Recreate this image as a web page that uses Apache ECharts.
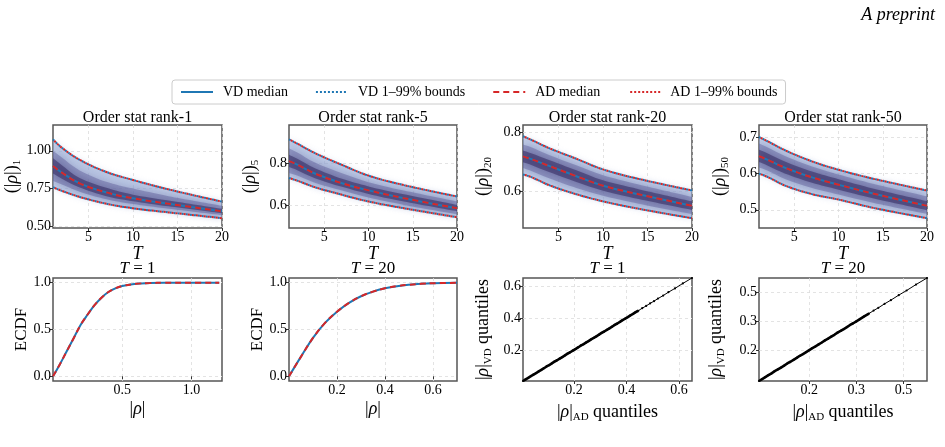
<!DOCTYPE html>
<html>
<head>
<meta charset="utf-8">
<script src="https://cdn.jsdelivr.net/npm/echarts@6/dist/echarts.min.js"></script>
<style>
  html, body { margin: 0; padding: 0; background: #fff; }
  #main { width: 945px; height: 447px; }
</style>
</head>
<body>
<div id="main"></div>
<script>
// T steps
const tSteps = [1, 2, 4, 7, 10, 14, 20];

// rank-1 : 1%, 10%, 25%, median, 75%, 90%, 99%
const r1Lo  = [0.759, 0.735, 0.695, 0.650, 0.620, 0.593, 0.555];
const r1Q10 = [0.800, 0.778, 0.730, 0.680, 0.648, 0.617, 0.575];
const r1Q25 = [0.850, 0.815, 0.757, 0.700, 0.667, 0.633, 0.587];
const r1Med = [0.899, 0.855, 0.785, 0.725, 0.686, 0.650, 0.600];
const r1Q75 = [0.950, 0.905, 0.820, 0.755, 0.710, 0.672, 0.617];
const r1Q90 = [1.000, 0.955, 0.870, 0.795, 0.750, 0.700, 0.637];
const r1Hi  = [1.075, 1.020, 0.940, 0.860, 0.807, 0.745, 0.664];

// rank-5
const r5Lo  = [0.728, 0.714, 0.683, 0.648, 0.616, 0.584, 0.541];
const r5Q10 = [0.752, 0.738, 0.704, 0.668, 0.635, 0.600, 0.556];
const r5Q25 = [0.780, 0.764, 0.726, 0.686, 0.652, 0.616, 0.570];
const r5Med = [0.808, 0.790, 0.748, 0.703, 0.669, 0.632, 0.584];
const r5Q75 = [0.838, 0.818, 0.773, 0.724, 0.688, 0.650, 0.600];
const r5Q90 = [0.868, 0.848, 0.800, 0.750, 0.708, 0.668, 0.616];
const r5Hi  = [0.912, 0.890, 0.845, 0.790, 0.739, 0.694, 0.640];

// rank-20
const r20Lo  = [0.657, 0.647, 0.620, 0.590, 0.566, 0.541, 0.509];
const r20Q10 = [0.679, 0.668, 0.643, 0.611, 0.585, 0.558, 0.523];
const r20Q25 = [0.698, 0.688, 0.664, 0.631, 0.602, 0.574, 0.537];
const r20Med = [0.718, 0.708, 0.685, 0.651, 0.619, 0.590, 0.551];
const r20Q75 = [0.738, 0.728, 0.705, 0.671, 0.637, 0.607, 0.566];
const r20Q90 = [0.758, 0.748, 0.722, 0.688, 0.654, 0.623, 0.581];
const r20Hi  = [0.786, 0.773, 0.745, 0.710, 0.674, 0.642, 0.603];

// rank-50
const r50Lo  = [0.599, 0.590, 0.566, 0.543, 0.528, 0.505, 0.477];
const r50Q10 = [0.616, 0.607, 0.584, 0.560, 0.542, 0.519, 0.489];
const r50Q25 = [0.631, 0.621, 0.599, 0.574, 0.555, 0.531, 0.499];
const r50Med = [0.647, 0.637, 0.615, 0.589, 0.569, 0.544, 0.511];
const r50Q75 = [0.665, 0.655, 0.632, 0.605, 0.584, 0.558, 0.524];
const r50Q90 = [0.682, 0.671, 0.647, 0.619, 0.597, 0.571, 0.537];
const r50Hi  = [0.700, 0.688, 0.663, 0.633, 0.610, 0.585, 0.553];

// ECDF of |rho|
const ecdfT1X  = [0, 0.05, 0.1, 0.15, 0.2, 0.25, 0.3, 0.35, 0.4, 0.45, 0.5, 0.6, 0.7, 0.8, 1.0, 1.2];
const ecdfT1Vd = [0, 0.13, 0.27, 0.41, 0.55, 0.66, 0.76, 0.84, 0.90, 0.94, 0.965, 0.988, 0.996, 0.999, 1, 1];
const ecdfT1Ad = [0, 0.13, 0.27, 0.41, 0.55, 0.66, 0.76, 0.84, 0.90, 0.94, 0.965, 0.988, 0.996, 0.999, 1, 1];
const ecdfT20X  = [0, 0.05, 0.1, 0.15, 0.2, 0.25, 0.3, 0.35, 0.4, 0.45, 0.5, 0.55, 0.6, 0.7];
const ecdfT20Vd = [0, 0.21, 0.41, 0.57, 0.69, 0.785, 0.855, 0.905, 0.94, 0.963, 0.978, 0.988, 0.994, 0.999];
const ecdfT20Ad = [0, 0.21, 0.41, 0.57, 0.69, 0.785, 0.855, 0.905, 0.94, 0.963, 0.978, 0.988, 0.994, 0.999];

// QQ quantiles
const qqT1Ad = [0.005,0.015,0.025,0.035,0.045,0.055,0.065,0.075,0.085,0.095,0.105,0.115,0.125,0.135,0.145,0.155,0.165,0.175,0.185,0.195,0.205,0.215,0.225,0.235,0.245,0.255,0.265,0.275,0.285,0.295,0.305,0.315,0.325,0.335,0.345,0.355,0.365,0.375,0.385,0.395,0.405,0.415,0.425,0.435,0.445,0.46,0.475,0.49,0.505,0.52,0.54,0.56,0.585,0.615,0.65];
const qqT1Vd = [0.005,0.015,0.025,0.035,0.045,0.055,0.065,0.075,0.085,0.096,0.105,0.115,0.126,0.135,0.145,0.155,0.165,0.176,0.185,0.195,0.205,0.215,0.226,0.235,0.245,0.255,0.266,0.275,0.285,0.295,0.306,0.315,0.325,0.335,0.345,0.356,0.365,0.375,0.386,0.395,0.405,0.416,0.425,0.436,0.445,0.461,0.475,0.491,0.505,0.521,0.54,0.561,0.585,0.616,0.65];
const qqT20Ad = [0.04,0.05,0.06,0.07,0.08,0.09,0.1,0.11,0.12,0.13,0.14,0.15,0.16,0.17,0.18,0.19,0.2,0.21,0.22,0.23,0.24,0.25,0.26,0.27,0.28,0.29,0.3,0.31,0.32,0.33,0.34,0.35,0.36,0.375,0.39,0.405,0.42,0.44,0.46,0.485,0.51,0.54,0.575];
const qqT20Vd = [0.04,0.05,0.06,0.07,0.08,0.091,0.1,0.11,0.12,0.131,0.14,0.15,0.16,0.171,0.18,0.19,0.2,0.211,0.22,0.23,0.24,0.251,0.26,0.27,0.28,0.291,0.3,0.31,0.32,0.331,0.34,0.35,0.36,0.376,0.39,0.406,0.42,0.441,0.46,0.486,0.51,0.541,0.575];

const titlesTop = ['Order stat rank-1', 'Order stat rank-5', 'Order stat rank-20', 'Order stat rank-50'];
const titlesBottom = ['1', '20', '1', '20'];

const BLUE = '#1f77b4', RED = '#d62728';
const FONT = 'Liberation Serif, DejaVu Serif, serif';
const outerFill = 'rgba(150,168,212,0.55)';
const midFill = 'rgba(95,95,155,0.45)';
const coreFill = 'rgba(50,40,95,0.55)';

const colsX = [53, 289, 523, 759];
const colsW = [169, 168, 169, 168];

const grids = [];
const xAxes = [];
const yAxes = [];
const series = [];
const titles = [];

function axisBase(idx, min, max, ticks, fmt) {
  return {
    type: 'value', gridIndex: idx, min: min, max: max,
    axisLine: { show: false },
    axisTick: { show: true, length: 3, lineStyle: { color: '#333' }, customValues: ticks },
    axisLabel: { customValues: ticks, formatter: fmt, fontSize: 14, color: '#000', fontFamily: FONT, margin: 2 },
    splitLine: { show: true, lineStyle: { color: '#dcdcdc', width: 0.8, type: [3, 3] } }
  };
}

const subRich = {
  r: { fontStyle: 'italic', fontSize: 18, fontFamily: FONT, color: '#000' },
  s: { fontSize: 11, fontFamily: FONT, color: '#000', padding: [10, 0, 0, 0] },
  i: { fontStyle: 'italic', fontSize: 18, fontFamily: FONT, color: '#000' }
};

function addGrid(col, top) {
  grids.push({ left: colsX[col], top: top, width: colsW[col], height: 103,
    show: true, borderColor: '#555', borderWidth: 1.5 });
  return grids.length - 1;
}

function pairs(xs, ys) { return xs.map((x, k) => [x, ys[k]]); }

// cubic pieces through pixel points (Catmull-Rom)
function curveCmds(pts) {
  let d = '';
  for (let i = 0; i < pts.length - 1; i++) {
    const p0 = pts[Math.max(i - 1, 0)], p1 = pts[i], p2 = pts[i + 1], p3 = pts[Math.min(i + 2, pts.length - 1)];
    const c1 = [p1[0] + (p2[0] - p0[0]) / 6, p1[1] + (p2[1] - p0[1]) / 6];
    const c2 = [p2[0] - (p3[0] - p1[0]) / 6, p2[1] - (p3[1] - p1[1]) / 6];
    d += ' C' + c1[0] + ',' + c1[1] + ' ' + c2[0] + ',' + c2[1] + ' ' + p2[0] + ',' + p2[1];
  }
  return d;
}

// band between two quantile curves, soft edged to look like many faint traces
function bandSeries(idx, lower, upper, fill, blur) {
  return {
    type: 'custom', xAxisIndex: idx, yAxisIndex: idx, silent: true, z: 1, clip: true,
    data: tSteps.map((t, k) => [t, lower[k], upper[k]]),
    encode: { x: 0, y: [1, 2] },
    renderItem: function (params, api) {
      if (params.dataIndex !== 0) return null;
      const up = tSteps.map((t, k) => api.coord([t, upper[k]]));
      const lo = tSteps.map((t, k) => api.coord([t, lower[k]])).reverse();
      const d = 'M' + up[0][0] + ',' + up[0][1] + curveCmds(up) +
        ' L' + lo[0][0] + ',' + lo[0][1] + curveCmds(lo) + ' Z';
      return { type: 'path', shape: { pathData: d },
        style: { fill: fill, shadowBlur: blur, shadowColor: fill } };
    }
  };
}

function topPanel(col, yMin, yMax, yTicks, dec, sub, gap, q) {
  const idx = addGrid(col, 125);
  const xa = axisBase(idx, 1, 20, [5, 10, 15, 20], v => String(v));
  xa.name = '{i|T}'; xa.nameLocation = 'middle'; xa.nameGap = -4;
  xa.nameTextStyle = { fontSize: 18, rich: subRich };
  xAxes.push(xa);
  const ya = axisBase(idx, yMin, yMax, yTicks, v => v.toFixed(dec));
  ya.name = '(|{r|ρ}|){s|' + sub + '}'; ya.nameLocation = 'middle'; ya.nameGap = gap;
  ya.nameTextStyle = { fontSize: 18, fontFamily: FONT, color: '#000', rich: subRich };
  yAxes.push(ya);

  const [lo, q10, q25, med, q75, q90, hi] = q;
  series.push(bandSeries(idx, lo, hi, outerFill, 6));
  series.push(bandSeries(idx, q10, q90, midFill, 8));
  series.push(bandSeries(idx, q25, q75, coreFill, 8));

  const line = (name, ys, color, type, offset, z) => series.push({
    name: name, type: 'line', xAxisIndex: idx, yAxisIndex: idx, data: pairs(tSteps, ys),
    smooth: 0.4, symbol: 'none', silent: true, itemStyle: { color: color }, z: z,
    lineStyle: { color: color, width: 2, type: type, dashOffset: offset }
  });
  line('VD median', med, BLUE, 'solid', 0, 3);
  line('AD median', med, RED, [6, 4], 0, 4);
  line('VD 1–99% bounds', lo, BLUE, [2, 2], 0, 3);
  line('VD 1–99% bounds', hi, BLUE, [2, 2], 0, 3);
  line('AD 1–99% bounds', lo, RED, [2, 2], 2, 4);
  line('AD 1–99% bounds', hi, RED, [2, 2], 2, 4);

  titles.push({ text: titlesTop[col], left: colsX[col] + colsW[col] / 2, top: 110, textAlign: 'center', padding: 0,
    textStyle: { fontSize: 16, fontWeight: 'normal', fontFamily: FONT, color: '#000' } });
}

function ecdfPanel(col, xMax, xTicks, gap, xs, vd, ad) {
  const idx = addGrid(col, 278);
  const xa = axisBase(idx, 0, xMax, xTicks, v => v.toFixed(1));
  xa.name = '|{r|ρ}|'; xa.nameLocation = 'middle'; xa.nameGap = 19;
  xa.nameTextStyle = { fontSize: 18, fontFamily: FONT, color: '#000', rich: subRich };
  xAxes.push(xa);
  const ya = axisBase(idx, -0.05, 1.05, [0, 0.5, 1.0], v => v.toFixed(1));
  ya.name = 'ECDF'; ya.nameLocation = 'middle'; ya.nameGap = gap;
  ya.nameTextStyle = { fontSize: 17, fontFamily: FONT, color: '#000' };
  yAxes.push(ya);
  series.push({ type: 'line', xAxisIndex: idx, yAxisIndex: idx, data: pairs(xs, vd), smooth: 0.4,
    symbol: 'none', silent: true, lineStyle: { color: BLUE, width: 2 }, z: 3 });
  series.push({ type: 'line', xAxisIndex: idx, yAxisIndex: idx, data: pairs(xs, ad), smooth: 0.4,
    symbol: 'none', silent: true, lineStyle: { color: RED, width: 2, type: [6, 4] }, z: 4 });
}

function qqPanel(col, min, max, ticks, gap, ad, vd, dense) {
  const idx = addGrid(col, 278);
  const xa = axisBase(idx, min, max, ticks, v => v.toFixed(1));
  xa.name = '|{r|ρ}|{s|AD} quantiles'; xa.nameLocation = 'middle'; xa.nameGap = 21;
  xa.nameTextStyle = { fontSize: 18, fontFamily: FONT, color: '#000', rich: subRich };
  xAxes.push(xa);
  const ya = axisBase(idx, min, max, ticks, v => v.toFixed(1));
  ya.name = '|{r|ρ}|{s|VD} quantiles'; ya.nameLocation = 'middle'; ya.nameGap = gap;
  ya.nameTextStyle = { fontSize: 18, fontFamily: FONT, color: '#000', rich: subRich };
  yAxes.push(ya);
  const all = pairs(ad, vd);
  series.push({ type: 'line', xAxisIndex: idx, yAxisIndex: idx, data: all,
    symbol: 'circle', symbolSize: 2.2, showSymbol: true, silent: true,
    itemStyle: { color: '#000' }, lineStyle: { color: '#000', width: 1 }, z: 3 });
  series.push({ type: 'line', xAxisIndex: idx, yAxisIndex: idx, data: all.filter(p => p[0] <= dense),
    symbol: 'none', silent: true, lineStyle: { color: '#000', width: 2.6 }, z: 3 });
}

topPanel(0, 0.49, 1.17, [0.5, 0.75, 1.0], 2, '1', 30, [r1Lo, r1Q10, r1Q25, r1Med, r1Q75, r1Q90, r1Hi]);
topPanel(1, 0.49, 0.98, [0.6, 0.8], 1, '5', 28, [r5Lo, r5Q10, r5Q25, r5Med, r5Q75, r5Q90, r5Hi]);
topPanel(2, 0.476, 0.824, [0.6, 0.8], 1, '20', 29, [r20Lo, r20Q10, r20Q25, r20Med, r20Q75, r20Q90, r20Hi]);
topPanel(3, 0.45, 0.733, [0.5, 0.6, 0.7], 1, '50', 28, [r50Lo, r50Q10, r50Q25, r50Med, r50Q75, r50Q90, r50Hi]);

ecdfPanel(0, 1.22, [0.5, 1.0], 21, ecdfT1X, ecdfT1Vd, ecdfT1Ad);
ecdfPanel(1, 0.7, [0.2, 0.4, 0.6], 23, ecdfT20X, ecdfT20Vd, ecdfT20Ad);
qqPanel(2, 0.005, 0.65, [0.2, 0.4, 0.6], 29, qqT1Ad, qqT1Vd, 0.445);
qqPanel(3, 0.04, 0.575, [0.2, 0.35, 0.5], 32, qqT20Ad, qqT20Vd, 0.39);

titlesBottom.forEach((t, col) => {
  titles.push({ text: '{i|T} = ' + t, left: colsX[col] + colsW[col] / 2, top: 260, textAlign: 'center', padding: 0,
    textStyle: { fontSize: 17, fontWeight: 'normal', fontFamily: FONT, color: '#000',
      rich: { i: { fontStyle: 'italic', fontSize: 17, fontFamily: FONT, color: '#000' } } } });
});
titles.push({ text: 'A preprint', right: 10, top: 6, padding: 0,
  textStyle: { fontSize: 18, fontStyle: 'italic', fontWeight: 'normal', fontFamily: FONT, color: '#000' } });

const chart = echarts.init(document.getElementById('main'), null, { renderer: 'canvas' });
chart.setOption({
  animation: false,
  backgroundColor: '#fff',
  textStyle: { fontFamily: FONT },
  title: titles,
  legend: {
    data: ['VD median', 'VD 1–99% bounds', 'AD median', 'AD 1–99% bounds'],
    left: 172, top: 80, padding: [5, 8, 5, 8], itemWidth: 32, itemHeight: 12, itemGap: 27,
    borderColor: '#cccccc', borderWidth: 1, borderRadius: 3,
    itemStyle: { color: 'transparent', borderWidth: 0, opacity: 0 },
    textStyle: { fontFamily: FONT, fontSize: 14, color: '#000', padding: [0, 0, 0, 5] }
  },
  grid: grids,
  xAxis: xAxes,
  yAxis: yAxes,
  series: series
});
</script>
</body>
</html>
